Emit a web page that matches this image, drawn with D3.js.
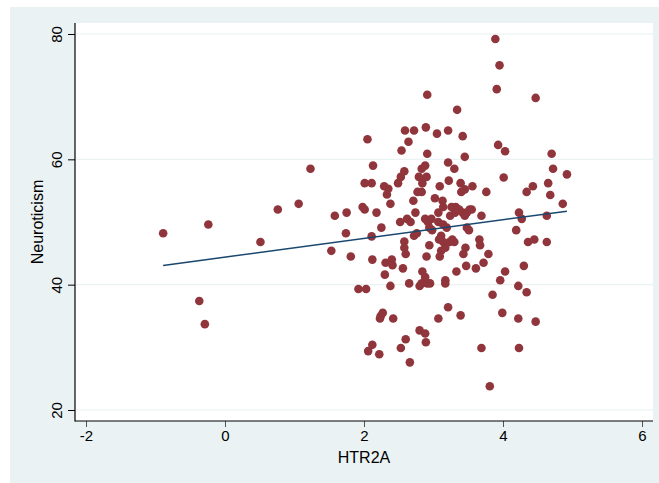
<!DOCTYPE html>
<html>
<head>
<meta charset="utf-8">
<script src="https://cdn.jsdelivr.net/npm/d3@7"></script>
<style>
  body { margin: 0; background: #ffffff; }
  svg { display: block; }
</style>
</head>
<body>
<script>
'use strict';

// HTR2A (x) and Neuroticism (y)
const htr2a = [
  -0.89, -0.24, -0.37, -0.29, 0.51, 0.76, 1.06, 1.23, 1.53, 1.58,
  1.75, 1.74, 1.81, 1.92, 2.03, 1.98, 2.01, 2.01, 2.11, 2.05,
  2.13, 2.18, 2.11, 2.12, 2.25, 2.06, 2.12, 2.22, 2.24, 2.23,
  2.27, 2.42, 2.30, 2.31, 2.38, 2.40, 2.41, 2.29, 2.35, 2.33,
  2.38, 2.52, 2.49, 2.53, 2.58, 2.54, 2.64, 2.59, 2.72, 2.56,
  2.58, 2.58, 2.60, 2.62, 2.67, 2.71, 2.74, 2.77, 2.83, 2.79,
  2.84, 2.83, 2.88, 2.90, 2.91, 2.89, 2.91, 2.72, 2.76, 2.65,
  2.66, 2.60, 2.53, 2.80, 2.88, 2.89, 2.80, 2.83, 2.84, 2.88,
  2.91, 2.95, 2.90, 2.94, 2.88, 2.92, 2.97, 2.94, 2.98, 3.02,
  3.07, 3.09, 3.13, 3.14, 3.05, 3.21, 3.34, 3.42, 3.45, 3.21,
  3.30, 3.22, 3.39, 3.56, 3.40, 3.45, 3.07, 3.14, 3.19, 3.24,
  3.26, 3.32, 3.31, 3.37, 3.42, 3.45, 3.48, 3.52, 3.55, 3.69,
  3.48, 3.51, 3.08, 3.11, 3.14, 3.23, 3.27, 3.30, 3.11, 3.09,
  3.17, 3.46, 3.43, 3.66, 3.67, 3.47, 3.33, 3.61, 3.72, 3.79,
  3.17, 3.17, 3.21, 3.07, 3.39, 3.69, 3.81, 3.85, 3.76, 3.89,
  3.95, 3.91, 3.93, 4.03, 4.01, 3.96, 4.03, 3.99, 4.19, 4.23,
  4.27, 4.34, 4.43, 4.47, 4.36, 4.45, 4.30, 4.22, 4.34, 4.22,
  4.47, 4.23, 4.63, 4.63, 4.68, 4.65, 4.70, 4.72, 4.86, 4.92
];
const neuroticism = [
  48.2, 49.6, 37.4, 33.7, 46.8, 52.0, 52.9, 58.5, 45.4, 51.0,
  51.5, 48.2, 44.5, 39.3, 39.3, 52.4, 52.0, 56.2, 56.2, 63.2,
  59.0, 51.5, 47.7, 44.0, 49.1, 29.4, 30.4, 28.9, 35.0, 34.6,
  35.5, 34.6, 41.6, 43.5, 39.8, 44.0, 43.1, 55.7, 55.3, 54.4,
  52.9, 50.0, 56.2, 57.2, 58.1, 61.4, 62.8, 64.6, 64.6, 42.6,
  46.9, 45.9, 44.9, 50.5, 50.0, 53.4, 51.5, 54.8, 54.8, 57.2,
  56.2, 58.5, 59.0, 57.2, 60.9, 65.1, 70.3, 47.8, 48.2, 40.2,
  27.6, 31.3, 29.9, 32.7, 32.2, 30.8, 39.8, 40.2, 42.1, 41.2,
  40.2, 40.2, 44.5, 46.3, 50.5, 50.0, 50.5, 49.1, 48.7, 53.8,
  51.5, 55.7, 53.4, 52.4, 64.1, 64.6, 67.9, 63.7, 60.4, 59.5,
  58.5, 56.6, 56.2, 55.7, 54.8, 55.2, 50.0, 49.6, 49.1, 51.0,
  52.4, 52.4, 51.5, 52.0, 51.5, 51.0, 51.5, 52.0, 52.0, 51.0,
  49.1, 48.7, 47.2, 47.8, 46.8, 46.8, 47.2, 46.8, 45.4, 44.5,
  45.9, 45.9, 44.9, 47.2, 46.3, 43.0, 42.1, 42.6, 43.5, 44.9,
  40.7, 40.2, 36.4, 34.6, 35.1, 29.9, 23.8, 38.4, 54.8, 79.2,
  75.0, 71.2, 62.3, 61.3, 57.1, 40.7, 42.1, 35.5, 48.7, 51.5,
  50.5, 54.8, 55.7, 69.8, 46.8, 47.2, 43.0, 39.8, 38.8, 34.6,
  34.1, 29.9, 46.8, 51.0, 54.3, 56.2, 60.9, 58.5, 52.9, 57.6
];

// linear fit line as drawn in the picture
const fitIntercept = 44.4;
const fitSlope = 1.49;

const xTicks = [-2, 0, 2, 4, 6];
const yTicks = [20, 40, 60, 80];

const xTitle = 'HTR2A';
const yTitle = 'Neuroticism';

(function() {
  const W = 659, H = 483;
  const font = "'Liberation Sans', Arial, Helvetica, sans-serif";

  let svg = d3.select('body').append('svg')
    .attr('width', W)
    .attr('height', H);

  // outer graph region
  svg.append('rect')
    .attr('x', 10).attr('y', 7)
    .attr('width', W - 10).attr('height', H - 7)
    .attr('fill', '#eaf2f3');

  // plot region
  const plot = { left: 75, top: 23, right: 653, bottom: 421 };
  svg.append('rect')
    .attr('x', plot.left).attr('y', plot.top)
    .attr('width', plot.right - plot.left)
    .attr('height', plot.bottom - plot.top)
    .attr('fill', '#ffffff');

  let xScale = d3.scaleLinear().domain([-2, 6]).range([86, 642]);
  let yScale = d3.scaleLinear().domain([20, 80]).range([410, 34]);

  // plain hyphen for negatives, like the original
  let fmt = d => String(d);

  // horizontal grid lines
  svg.selectAll('.grid')
    .data(yTicks)
    .enter()
    .append('line')
      .attr('x1', plot.left + 1)
      .attr('x2', plot.right)
      .attr('y1', d => yScale(d))
      .attr('y2', d => yScale(d))
      .attr('stroke', '#eaf2f3')
      .attr('stroke-width', 1.2);

  // y axis
  let yAxis = d3.axisLeft(yScale)
    .tickValues(yTicks)
    .tickFormat(fmt)
    .tickSize(7)
    .tickPadding(6);
  let gy = svg.append('g')
    .attr('transform', `translate(${plot.left}, 0)`)
    .call(yAxis);
  gy.select('.domain').remove();
  gy.selectAll('.tick line').attr('stroke', '#000').attr('stroke-width', 1);
  gy.selectAll('.tick text')
    .attr('transform', 'rotate(-90)')
    .attr('x', 0)
    .attr('y', -13)
    .attr('dy', 0)
    .style('text-anchor', 'middle')
    .style('font-family', font)
    .style('font-size', '15px')
    .attr('fill', '#000');

  // x axis
  let xAxis = d3.axisBottom(xScale)
    .tickValues(xTicks)
    .tickFormat(fmt)
    .tickSize(6)
    .tickPadding(3);
  let gx = svg.append('g')
    .attr('transform', `translate(0, ${plot.bottom})`)
    .call(xAxis);
  gx.select('.domain').remove();
  gx.selectAll('.tick line').attr('stroke', '#555').attr('stroke-width', 1);
  gx.selectAll('.tick text')
    .style('font-family', font)
    .style('font-size', '15px')
    .attr('fill', '#000');

  // axis lines
  svg.append('line')
    .attr('x1', plot.left).attr('x2', plot.left)
    .attr('y1', plot.top).attr('y2', plot.bottom + 0.5)
    .attr('stroke', '#000').attr('stroke-width', 1.2);
  svg.append('line')
    .attr('x1', plot.left).attr('x2', plot.right)
    .attr('y1', plot.bottom).attr('y2', plot.bottom)
    .attr('stroke', '#000').attr('stroke-width', 1.2);

  // points
  let pts = htr2a.map((x, i) => ({ x: x, y: neuroticism[i] }));
  svg.selectAll('.pt')
    .data(pts)
    .enter()
    .append('circle')
      .attr('cx', d => xScale(d.x))
      .attr('cy', d => yScale(d.y))
      .attr('r', 4.3)
      .attr('fill', '#90353b');

  // fitted line from min to max x
  let xExt = d3.extent(htr2a);
  let line = d3.line()
    .x(d => xScale(d))
    .y(d => yScale(fitIntercept + fitSlope * d));
  svg.append('path')
    .datum(xExt)
    .attr('d', line)
    .attr('fill', 'none')
    .attr('stroke', '#1a476f')
    .attr('stroke-width', 1.5);

  // titles
  svg.append('text')
    .attr('x', (plot.left + plot.right) / 2)
    .attr('y', 463)
    .style('text-anchor', 'middle')
    .style('font-family', font)
    .style('font-size', '16px')
    .text(xTitle);

  svg.append('text')
    .attr('transform', `translate(43, ${(plot.top + plot.bottom) / 2}) rotate(-90)`)
    .style('text-anchor', 'middle')
    .style('font-family', font)
    .style('font-size', '16px')
    .text(yTitle);
})();
</script>
</body>
</html>
